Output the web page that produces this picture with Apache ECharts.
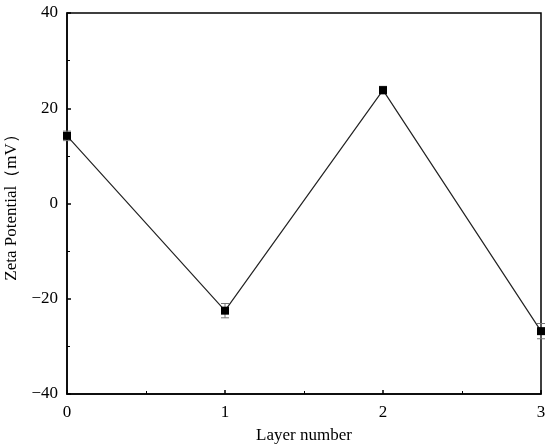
<!DOCTYPE html>
<html>
<head>
<meta charset="utf-8">
<script src="https://cdn.jsdelivr.net/npm/echarts@6/dist/echarts.min.js"></script>
</head>
<body style="margin:0;background:#fff;">
<div id="zeta" style="width:550px;height:447px;"></div>
<script>
// layer number vs zeta potential
var layers = [0, 1, 2, 3];
var zeta = [14.2, -22.5, 23.8, -26.8];
var zetaErr = [1.0, 1.5, 0.8, 1.6];
var yTicks = [-40, -20, 0, 20, 40];

var chart = echarts.init(document.getElementById("zeta"));

var lineData = layers.map(function (x, i) { return [x, zeta[i]]; });
var errData = layers.map(function (x, i) { return [x, zeta[i] - zetaErr[i], zeta[i] + zetaErr[i]]; });

var axisFont = { fontFamily: "Liberation Serif", fontSize: 17, color: "#000" };

var option = {
  animation: false,
  grid: {
    left: 67, right: 9, top: 13, bottom: 53,
    outerBoundsMode: "none",
    containLabel: false,
    show: true, borderColor: "#000", borderWidth: 1.5
  },
  xAxis: {
    type: "value",
    min: 0, max: 3, interval: 1,
    name: "Layer number",
    nameLocation: "middle",
    nameGap: 33,
    nameTextStyle: axisFont,
    axisLine: { onZero: false, lineStyle: { color: "#000", width: 1.5 } },
    axisTick: { inside: true, length: 4, lineStyle: { color: "#000", width: 1.5 } },
    minorTick: { show: true, splitNumber: 2, length: 3, lineStyle: { color: "#000", width: 1 } },
    axisLabel: Object.assign({ margin: 10 }, axisFont),
    splitLine: { show: false }
  },
  yAxis: {
    type: "value",
    min: yTicks[0], max: yTicks[yTicks.length - 1], interval: 20,
    name: "Zeta Potential（mV）",
    nameLocation: "middle",
    nameGap: 44,
    nameTextStyle: axisFont,
    axisLine: { show: true, onZero: false, lineStyle: { color: "#000", width: 1.5 } },
    axisTick: { inside: true, length: 4, lineStyle: { color: "#000", width: 1.5 } },
    minorTick: { show: true, splitNumber: 2, length: 3, lineStyle: { color: "#000", width: 1 } },
    axisLabel: Object.assign({
      margin: 9,
      formatter: function (v) { return String(v).replace("-", "\u2212"); }
    }, axisFont),
    splitLine: { show: false }
  },
  series: [
    {
      type: "line",
      data: lineData,
      symbol: "rect",
      symbolSize: 8,
      clip: false,
      itemStyle: { color: "#000" },
      lineStyle: { color: "#222", width: 1.2 },
      z: 3
    },
    {
      type: "custom",
      data: errData,
      z: 2,
      renderItem: function (params, api) {
        var top = api.coord([api.value(0), api.value(2)]);
        var bot = api.coord([api.value(0), api.value(1)]);
        var w = 4;
        var st = { stroke: "#777", lineWidth: 1 };
        return {
          type: "group",
          children: [
            { type: "line", shape: { x1: top[0], y1: top[1], x2: bot[0], y2: bot[1] }, style: st },
            { type: "line", shape: { x1: top[0] - w, y1: top[1], x2: top[0] + w, y2: top[1] }, style: st },
            { type: "line", shape: { x1: bot[0] - w, y1: bot[1], x2: bot[0] + w, y2: bot[1] }, style: st }
          ]
        };
      }
    }
  ]
};

chart.setOption(option);
window.onresize = chart.resize;
</script>
</body>
</html>
